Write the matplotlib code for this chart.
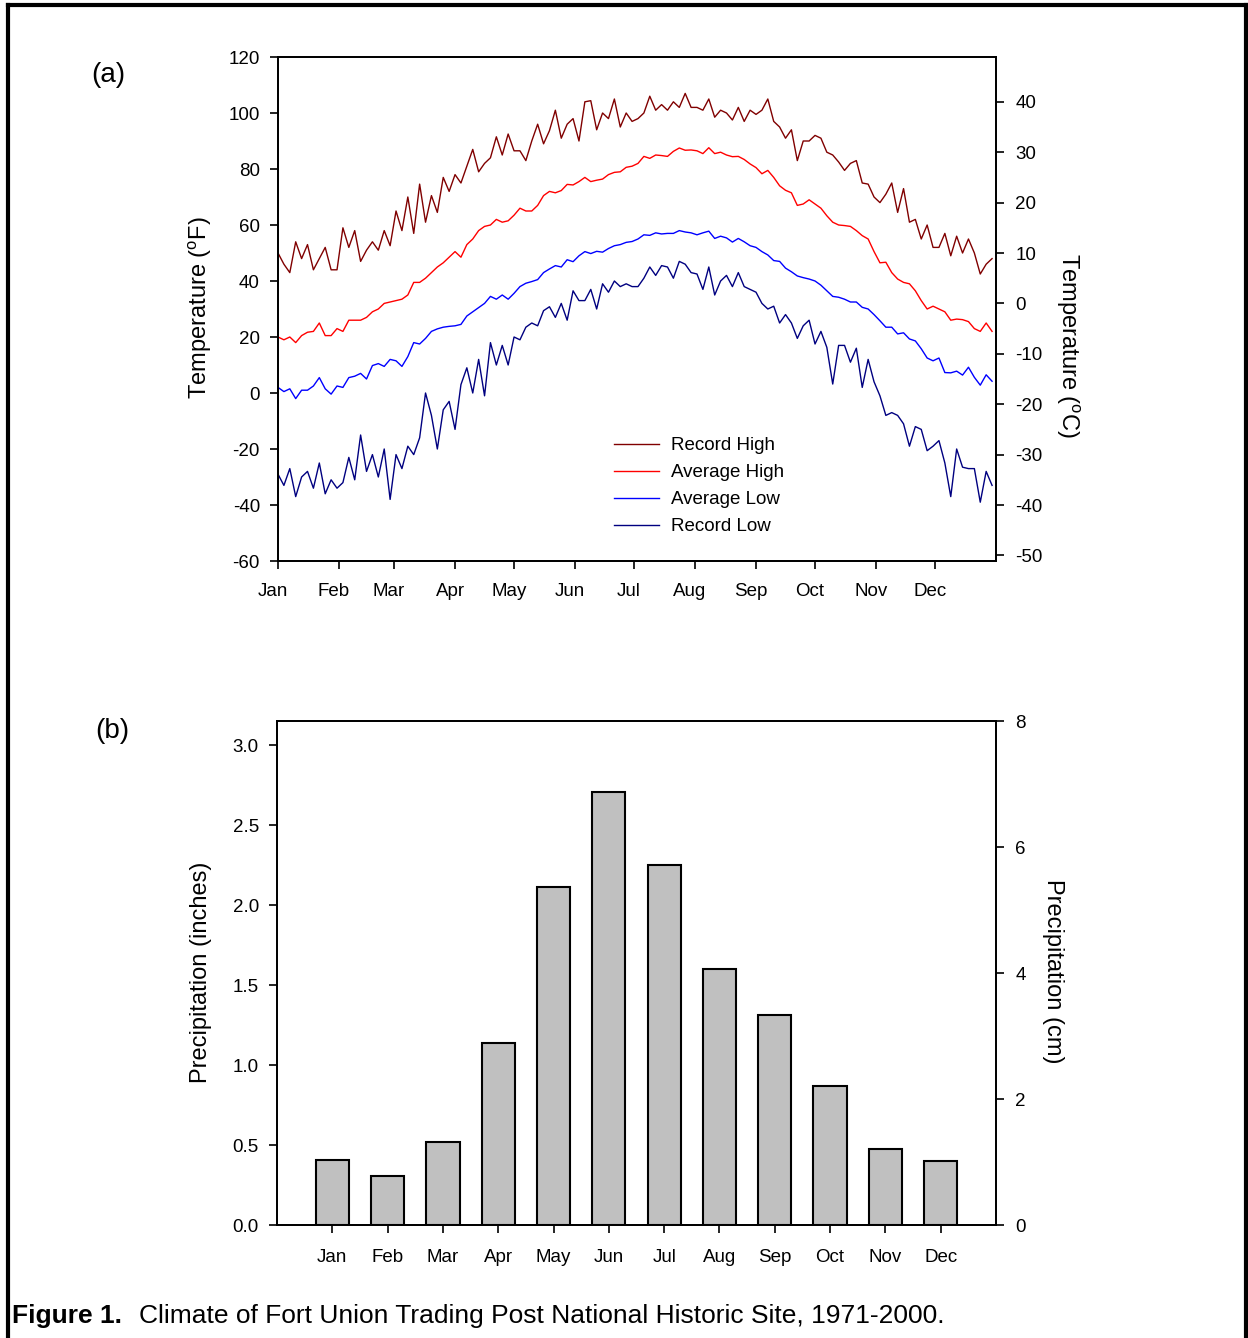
import numpy as np
import matplotlib
matplotlib.use('Agg')
import matplotlib.pyplot as plt
from matplotlib.lines import Line2D
from matplotlib.transforms import ScaledTranslation

plt.rcParams['font.family'] = 'Liberation Sans'
plt.rcParams['mathtext.fontset'] = 'custom'
plt.rcParams['mathtext.rm'] = 'Liberation Sans'
plt.rcParams['axes.unicode_minus'] = False

# daily temperatures (deg F), read every 3rd day starting 1 Jan
days = np.arange(1, 366, 3)

record_high = [50, 46, 43, 54, 48, 53, 44, 48, 52, 44, 44, 59, 52, 58, 47, 51,
               54, 51, 58, 52.6, 65, 58, 70, 57, 74.6, 61, 70.5, 64.5, 77, 72, 78, 75,
               81, 87, 79, 82, 84, 91.5, 85, 92.5, 86.5, 86.5, 83, 90, 96, 89, 93.7,
               101, 91, 96, 98, 90, 104, 104.4, 94, 100, 98, 105, 95, 100, 97, 98,
               100, 106, 101, 103, 101, 104, 102, 107, 102, 102, 101, 105, 98.5, 101,
               100, 97.5, 102, 97, 101, 99.5, 101, 105, 97, 95, 91, 94, 83, 90, 90, 92,
               91, 86, 85, 82.5, 79.5, 82, 83, 75, 74.6, 70, 68, 71, 75, 64.5, 73, 61,
               62, 55, 60, 52, 52, 57, 49, 56, 50, 55, 50, 42.5, 46, 48]
avg_high = [20, 19, 20, 18, 20.5, 21.7, 22, 25, 20.5, 20.5, 23, 22, 26, 26, 26, 27,
            29, 30, 32, 32.5, 33, 33.5, 35, 39.5, 39.5, 41, 43, 45, 46.5, 48.5, 50.5, 48.5,
            53, 55, 58, 59.5, 60, 62, 61, 61.5, 63.5, 66, 65, 65, 67, 70.5, 72, 71.5,
            72.3, 74.5, 74.3, 75.5, 77, 75.5, 76, 76.4, 78, 78.8, 79, 80.6, 81, 82,
            84.5, 83.8, 85, 84.8, 84.5, 86.3, 87.5, 86.7, 86.8, 86.5, 85.5, 87.6, 85.5,
            86, 85, 84.4, 84.5, 83.4, 81.8, 80.5, 78.3, 79.5, 77, 74, 72.4, 71.5, 67,
            67.5, 69, 67.5,
            66, 63.3, 61, 60, 59.8, 59.5, 58, 56.2, 55, 50.5, 46.5, 46.7, 43, 40.7,
            39.5, 39, 36.5, 33, 30, 31, 30, 29, 26, 26.4, 26.2, 25.5, 23, 22, 25, 22]
avg_low = [2, 0.5, 1.5, -2, 1, 1, 2.5, 5.5, 1.5, -0.4, 2.5, 2, 5.5, 6, 7, 5,
           9.8, 10.5, 9.5, 12, 11.5, 9.5, 13, 18, 17.5, 19.5, 22, 22.9, 23.5, 23.8, 24, 24.5,
           27.5, 29, 30.5, 32, 34.5, 33.5, 35, 33.5, 35.6, 38, 39.2, 39.8, 40.5, 43,
           44.3, 45.5, 45, 47.6, 46.9, 49, 50.5, 49.8, 50.6, 50.3, 51.6, 52.6, 53,
           53.8, 54.1, 55,
           56.5, 56.3, 57.2, 56.8, 57, 57, 58, 57.5, 57.2, 56.5, 57.2, 57.8, 55.2, 56,
           55.4, 53.9, 55.2, 54, 52.6, 52, 50.5, 49.3, 47.3, 47, 44.6, 43.3, 41.8,
           41.2, 40.7, 40,
           38.5, 36.5, 34.5, 34.2, 33.5, 32.5, 32.5, 30.6, 30, 28, 25.8, 23.5, 23.5,
           21.1, 21.5, 19.3, 18.6, 15.8, 12.5, 11.5, 12.5, 7.3, 7.2, 7.8, 6.4, 9.2,
           5.6, 2.8, 6.5, 4.2]
record_low = [-29, -33, -27, -37, -30, -28, -34, -25, -36, -31, -34, -32, -23, -31,
              -15, -28, -22, -30, -20, -38, -22, -27, -19, -22, -16, 0, -8, -20, -6, -3,
              -13, 3,
              9, 0, 12, -1, 18, 10, 17, 10, 20, 19, 23.5, 25, 24, 29.4, 30.8, 27, 32,
              26, 36.5, 33, 33, 37, 30, 39, 36, 40, 38, 39, 38, 38,
              41, 45, 42, 45.5, 45, 41, 47, 46, 43, 42.5, 37, 45, 35, 40, 42, 38, 43,
              38, 37, 36, 32, 30, 31, 25, 28, 25, 19.5, 24, 26, 17.5,
              22, 16.3, 3.2, 17, 17, 11, 16, 2, 12, 4, -1, -8, -7, -8, -11, -19, -12,
              -13, -20.6, -19, -17, -25, -37, -20, -26.5, -27, -27, -39, -28, -33]

month_starts = [1, 32, 60, 91, 121, 152, 182, 213, 244, 274, 305, 335]
months = ['Jan', 'Feb', 'Mar', 'Apr', 'May', 'Jun',
          'Jul', 'Aug', 'Sep', 'Oct', 'Nov', 'Dec']

# monthly precipitation (inches)
precip_in = [0.405, 0.305, 0.516, 1.136, 2.114, 2.704,
             2.25, 1.60, 1.31, 0.867, 0.478, 0.399]


def f2c(f):
    return (f - 32) * 5.0 / 9.0


W, H = 1248, 1338
fig = plt.figure(figsize=(W / 100, H / 100), dpi=100)

tick_kw = dict(direction='out', length=6, width=1.2, labelsize=13.5)

# (a) temperature
ax1 = fig.add_axes([278 / W, 1 - 561 / H, 718 / W, 504 / H])
ax1.plot(days, record_high, color='#800000', lw=1.0, label='Record High')
ax1.plot(days, avg_high, color='#ff0000', lw=1.0, label='Average High')
ax1.plot(days, avg_low, color='#0000ff', lw=1.0, label='Average Low')
ax1.plot(days, record_low, color='#000080', lw=1.0, label='Record Low')
ax1.set_xlim(1, 366)
ax1.set_ylim(-60, 120)
ax1.set_yticks(range(-60, 121, 20))
ax1.set_xticks(month_starts)
ax1.set_xticklabels(months)
ax1.tick_params(axis='y', pad=7, **tick_kw)
ax1.tick_params(axis='x', pad=10, **tick_kw)
shift = ScaledTranslation(-5 / 100, 0, fig.dpi_scale_trans)
for lab in ax1.get_xticklabels():
    lab.set_transform(lab.get_transform() + shift)
ax1.legend(loc='upper left', bbox_to_anchor=(0.468, 0.246), frameon=False,
           fontsize=13.5, handlelength=2.4, handletextpad=0.65,
           labelspacing=0.53, borderpad=0, borderaxespad=0)

ax1r = ax1.twinx()
ax1r.set_ylim(f2c(-60), f2c(120))
ax1r.set_yticks(range(-50, 41, 10))
ax1r.tick_params(axis='y', pad=8, **tick_kw)

# (b) precipitation
ax2 = fig.add_axes([277 / W, 1 - 1225 / H, 719 / W, 504 / H])
ax2.bar(np.arange(1, 13), precip_in, width=0.6, color='#c0c0c0',
        edgecolor='black', linewidth=1.5)
ax2.set_xlim(0, 13)
ax2.set_ylim(0, 3.15)
ax2.set_yticks(np.arange(0, 3.01, 0.5))
ax2.set_yticklabels(['%.1f' % v for v in np.arange(0, 3.01, 0.5)])
ax2.set_xticks(np.arange(1, 13))
ax2.set_xticklabels(months)
ax2.tick_params(axis='y', pad=7, **tick_kw)
ax2.tick_params(axis='x', pad=11, **tick_kw)

ax2r = ax2.twinx()
ax2r.set_ylim(0, 3.15 * 2.54)
ax2r.set_yticks([0, 2, 4, 6, 8])
ax2r.tick_params(axis='y', pad=8, **tick_kw)

for a in (ax1, ax1r, ax2, ax2r):
    for s in a.spines.values():
        s.set_linewidth(1.3)

# axis titles
fig.text(200 / W, 1 - 308 / H, 'Temperature ($\\mathregular{^{o}}$F)', fontsize=17,
         rotation=90, ha='center', va='center')
fig.text(1068 / W, 1 - 346 / H, 'Temperature ($\\mathregular{^{o}}$C)', fontsize=17,
         rotation=270, ha='center', va='center')
fig.text(201 / W, 1 - 972 / H, 'Precipitation (inches)', fontsize=17,
         rotation=90, ha='center', va='center')
fig.text(1053 / W, 1 - 971 / H, 'Precipitation (cm)', fontsize=17,
         rotation=270, ha='center', va='center')

fig.text(108 / W, 1 - 75 / H, '(a)', fontsize=20, ha='center', va='center')
fig.text(112 / W, 1 - 731 / H, '(b)', fontsize=20, ha='center', va='center')

# caption
t1 = fig.text(12 / W, 1 - 1316 / H, 'Figure 1.', fontsize=19, fontweight='bold',
              ha='left', va='center')
fig.canvas.draw()
bb = t1.get_window_extent(fig.canvas.get_renderer())
fig.text((bb.x1 + 17) / W, 1 - 1316 / H,
         'Climate of Fort Union Trading Post National Historic Site, 1971-2000.',
         fontsize=19, ha='left', va='center')

# page frame
lw_frame = 3.0
fig.add_artist(Line2D([8 / W, 8 / W], [0, 1 - 5 / H], transform=fig.transFigure,
                      color='black', lw=lw_frame))
fig.add_artist(Line2D([8 / W, 1246 / W], [1 - 5 / H, 1 - 5 / H], transform=fig.transFigure,
                      color='black', lw=lw_frame))
fig.add_artist(Line2D([1246 / W, 1246 / W], [0, 1 - 5 / H], transform=fig.transFigure,
                      color='black', lw=lw_frame))

fig.savefig('out.png', dpi=100)
